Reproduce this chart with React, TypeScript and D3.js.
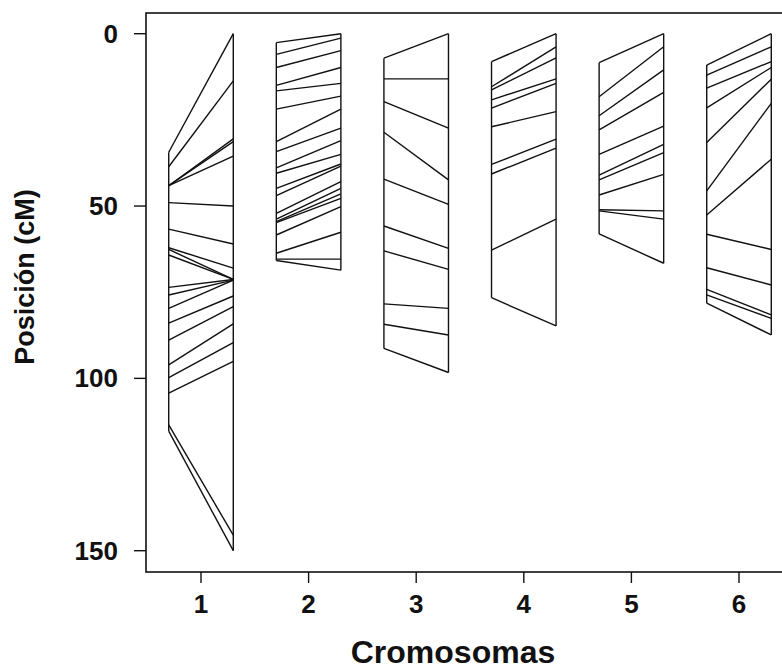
import React from "react";
import * as d3 from "d3";

const chromosomes = [1, 2, 3, 4, 5, 6];
const yTicks = [0, 50, 100, 150];

// [left map position (cM), right map position (cM)]
const chr1Links: [number, number][] = [
  [34.4, 0], [38.6, 13.7], [44.1, 30.5], [44.1, 31.3], [44.1, 35.5], [49.0, 50.0],
  [56.7, 61.0], [62.1, 68.0], [62.6, 71.3], [64.2, 71.3], [73.6, 71.3], [75.8, 71.5],
  [79.7, 71.5], [84.0, 76.1], [88.9, 79.2], [96.1, 84.2], [99.8, 89.6], [104.3, 95.1],
  [113.5, 145.5], [115.3, 150],
];
const chr2Links: [number, number][] = [
  [2.6, 0], [6.0, 1.3], [9.8, 4.9], [15.0, 9.8], [16.6, 14.4], [21.9, 18.1],
  [31.3, 21.9], [34.2, 27.4], [38.9, 31.0], [40.5, 35.0], [44.9, 37.8], [47.0, 38.4],
  [52.1, 42.9], [53.8, 44.9], [54.5, 46.5], [54.8, 47.8], [58.4, 50.2], [63.7, 57.6],
  [65.4, 65.4], [65.8, 68.6],
];
const chr3Links: [number, number][] = [
  [7.1, 0], [13.1, 13.1], [19.7, 27.4], [28.6, 42.4], [42.2, 49.5], [55.8, 62.3],
  [63.0, 68.4], [78.4, 79.7], [84.3, 87.4], [91.3, 98.3],
];
const chr4Links: [number, number][] = [
  [8.1, 0], [15.4, 3.8], [16.3, 7.0], [19.2, 13.1], [21.6, 14.4], [27.0, 22.6],
  [37.9, 30.6], [40.7, 33.2], [62.8, 53.8], [76.6, 84.8],
];
const chr5Links: [number, number][] = [
  [8.4, 0], [18.3, 3.8], [23.8, 10.5], [27.9, 17.0], [35.0, 26.8], [41.0, 32.1],
  [42.4, 34.5], [46.8, 40.8], [51.1, 51.4], [51.4, 53.8], [58.1, 66.6],
];
const chr6Links: [number, number][] = [
  [9.1, 0], [12.0, 3.8], [15.8, 8.1], [21.5, 9.8], [31.6, 13.2], [45.6, 20.2],
  [52.6, 36.4], [58.2, 62.6], [67.9, 72.9], [74.2, 81.6], [75.8, 82.6], [78.2, 87.4],
];
const allLinks = [chr1Links, chr2Links, chr3Links, chr4Links, chr5Links, chr6Links];

const W = 782;
const H = 670;
const FONT = "'Liberation Sans', Arial, Helvetica, sans-serif";

export default function App() {
  const x = d3.scaleLinear().domain([1, 6]).range([201, 739]);
  const y = d3.scaleLinear().domain([0, 150]).range([33.7, 550.7]);
  const half = 0.3;
  const box = { left: 146, top: 13, bottom: 572 };
  const stroke = "#111";

  return (
    <svg
      width={W}
      height={H}
      style={{ position: "absolute", left: 0, top: 0, background: "#fff" }}
      fontFamily={FONT}
    >
      <rect x={0} y={0} width={W} height={H} fill="#fff" />
      {/* frame (right side extends past the image) */}
      <rect
        x={box.left}
        y={box.top}
        width={W + 20 - box.left}
        height={box.bottom - box.top}
        fill="none"
        stroke={stroke}
        strokeWidth={1.6}
      />
      {/* y axis ticks */}
      {yTicks.map((t) => (
        <g key={t}>
          <line x1={box.left - 12} x2={box.left} y1={y(t)} y2={y(t)} stroke={stroke} strokeWidth={1.4} />
          <text
            x={118}
            y={y(t)}
            textAnchor="end"
            dominantBaseline="central"
            fontSize={26}
            fontWeight="bold"
            fill="#111"
          >
            {t}
          </text>
        </g>
      ))}
      {/* x axis ticks */}
      {chromosomes.map((c) => (
        <g key={c}>
          <line x1={x(c)} x2={x(c)} y1={box.bottom} y2={box.bottom + 11} stroke={stroke} strokeWidth={1.4} />
          <text x={x(c)} y={613} textAnchor="middle" fontSize={26} fontWeight="bold" fill="#111">
            {c}
          </text>
        </g>
      ))}
      {/* chromosome maps */}
      {chromosomes.map((c, i) => {
        const links = allLinks[i];
        const xl = x(c - half);
        const xr = x(c + half);
        const lExt = d3.extent(links, (d) => d[0]) as [number, number];
        const rExt = d3.extent(links, (d) => d[1]) as [number, number];
        return (
          <g key={c} stroke={stroke} strokeWidth={1.4} fill="none">
            <line x1={xl} x2={xl} y1={y(lExt[0])} y2={y(lExt[1])} />
            <line x1={xr} x2={xr} y1={y(rExt[0])} y2={y(rExt[1])} />
            {links.map((d, j) => (
              <line key={j} x1={xl} y1={y(d[0])} x2={xr} y2={y(d[1])} />
            ))}
          </g>
        );
      })}
      {/* axis titles */}
      <text x={453} y={663} textAnchor="middle" fontSize={32} fontWeight="bold" fill="#111">
        Cromosomas
      </text>
      <text
        transform={`translate(34, 277) rotate(-90)`}
        textAnchor="middle"
        fontSize={27}
        fontWeight="bold"
        fill="#111"
      >
        Posición (cM)
      </text>
    </svg>
  );
}
